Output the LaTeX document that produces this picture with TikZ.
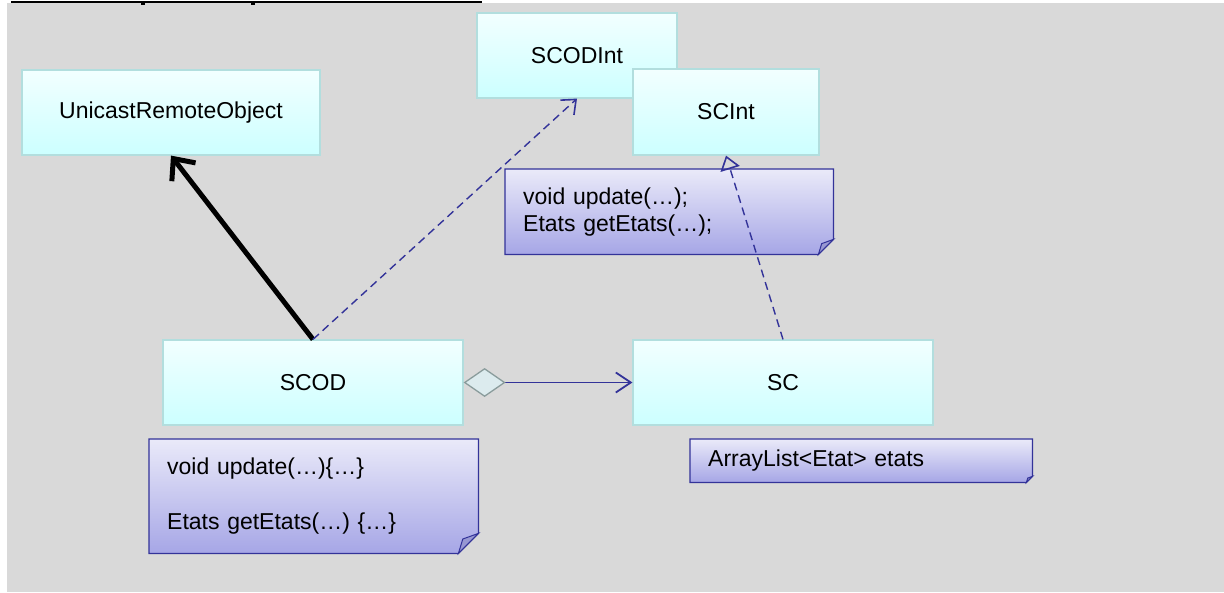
\documentclass[tikz,border=0pt]{standalone}
\usepackage{fontspec}
\setmainfont{Liberation Sans}
\usetikzlibrary{arrows.meta,calc,backgrounds}

\definecolor{bggrey}{HTML}{D9D9D9}
\definecolor{clstop}{HTML}{F2FFFF}
\definecolor{clsbot}{HTML}{CCFFFF}
\definecolor{clsedge}{HTML}{B2DEDE}
\definecolor{notetop}{HTML}{EAEAF9}
\definecolor{notebot}{HTML}{A6A6E6}
\definecolor{noteedge}{HTML}{333399}
\definecolor{foldfill}{HTML}{9898D2}
\definecolor{linkblue}{HTML}{333399}
\definecolor{diafill}{HTML}{DCEBEE}
\definecolor{diaedge}{HTML}{8A9C9C}

\tikzset{
  cls/.style={rectangle, draw=clsedge, line width=1.2pt, top color=clstop,
    bottom color=clsbot, inner sep=0pt, font=\fontsize{23}{27}\selectfont},
  memo/.style={rectangle, anchor=north west, inner xsep=18pt, inner ysep=0pt,
    align=left, font=\fontsize{23}{27}\selectfont},
  memobody/.style={draw=noteedge, line width=1.2pt, top color=notetop,
    bottom color=notebot, line join=miter},
  memofold/.style={draw=noteedge, line width=1pt, fill=foldfill, line join=miter},
  inherit/.style={line width=5pt,
    -{Straight Barb[length=17pt,width=30pt,line width=5pt]}},
  realize/.style={draw=linkblue, line width=1.4pt, dash pattern=on 8pt off 5pt,
    -{Straight Barb[length=12pt,width=20pt,line width=1.6pt]}},
  realizetri/.style={draw=linkblue, line width=1.4pt, dash pattern=on 8pt off 5pt,
    -{Triangle[open,length=14pt,width=20pt,line width=1.6pt]}},
  aggr/.style={draw=linkblue, line width=1.8pt,
    {Diamond[length=42pt,width=29pt,fill=diafill,color=diaedge,line width=1.3pt]}-{Straight Barb[length=15pt,width=20pt,line width=1.8pt]}},
}

% folded note outline drawn behind a named text node
\newcommand\notefold[2]{%
  \path[memobody] (#1.north west) -- (#1.north east)
    -- ($(#1.south east)+(0,-#2)$) -- ($(#1.south east)+(-#2,0)$)
    -- (#1.south west) -- cycle;
  \path[memofold] ($(#1.south east)+(0,-#2)$) -- ($(#1.south east)+(-#2,0)$)
    -- ($(#1.south east)+(-0.78*#2,-0.72*#2)$) -- cycle;
}

\begin{document}
\begin{tikzpicture}[x=1pt,y=-1pt]
  \path[use as bounding box] (0,0) rectangle (1224,592);
  \begin{scope}[on background layer]
    \fill[white] (0,0) rectangle (1224,592);
    \fill[bggrey] (7,3) rectangle (1224,592);
    % underline of the clipped heading
    \fill[black] (11,0.6) rectangle (482,3.2);
    \fill[black] (141,3) rectangle (144.5,4.6);
    \fill[black] (251,3) rectangle (255,4.6);
  \end{scope}

  % classes
  \node[cls, minimum width=298pt, minimum height=85pt] (uro) at (171,112.5) {UnicastRemoteObject};
  \node[cls, minimum width=200pt, minimum height=85pt] (scodint) at (577,55.5) {SCODInt};
  \node[cls, minimum width=186pt, minimum height=86pt] (scint) at (726,112) {SCInt};
  \node[cls, minimum width=300pt, minimum height=85pt] (scod) at (313,382.5) {SCOD};
  \node[cls, minimum width=300pt, minimum height=85pt] (sc) at (783,382.5) {SC};

  % notes
  \node[memo, text width=293pt, minimum height=114pt] (nscod) at (149,439)
    {void update(…)\{…\}\\[28pt]Etats getEtats(…) \{…\}};
  \node[memo, text width=292pt, minimum height=85pt] (nscint) at (505,169)
    {void update(…);\\Etats getEtats(…);};
  \node[memo, text width=306pt, minimum height=43pt] (nsc) at (690,439)
    {ArrayList<Etat> etats};
  \begin{scope}[on background layer]
    \notefold{nscod}{20}
    \notefold{nscint}{15}
    \notefold{nsc}{6}
  \end{scope}

  % relations
  \draw[inherit] (scod.north) -- (uro.south);
  \draw[realize] (scod.north) -- (scodint.south);
  \draw[realizetri] (sc.north) -- (scint.south);
  \draw[aggr] (scod.east) -- (sc.west);
\end{tikzpicture}
\end{document}
